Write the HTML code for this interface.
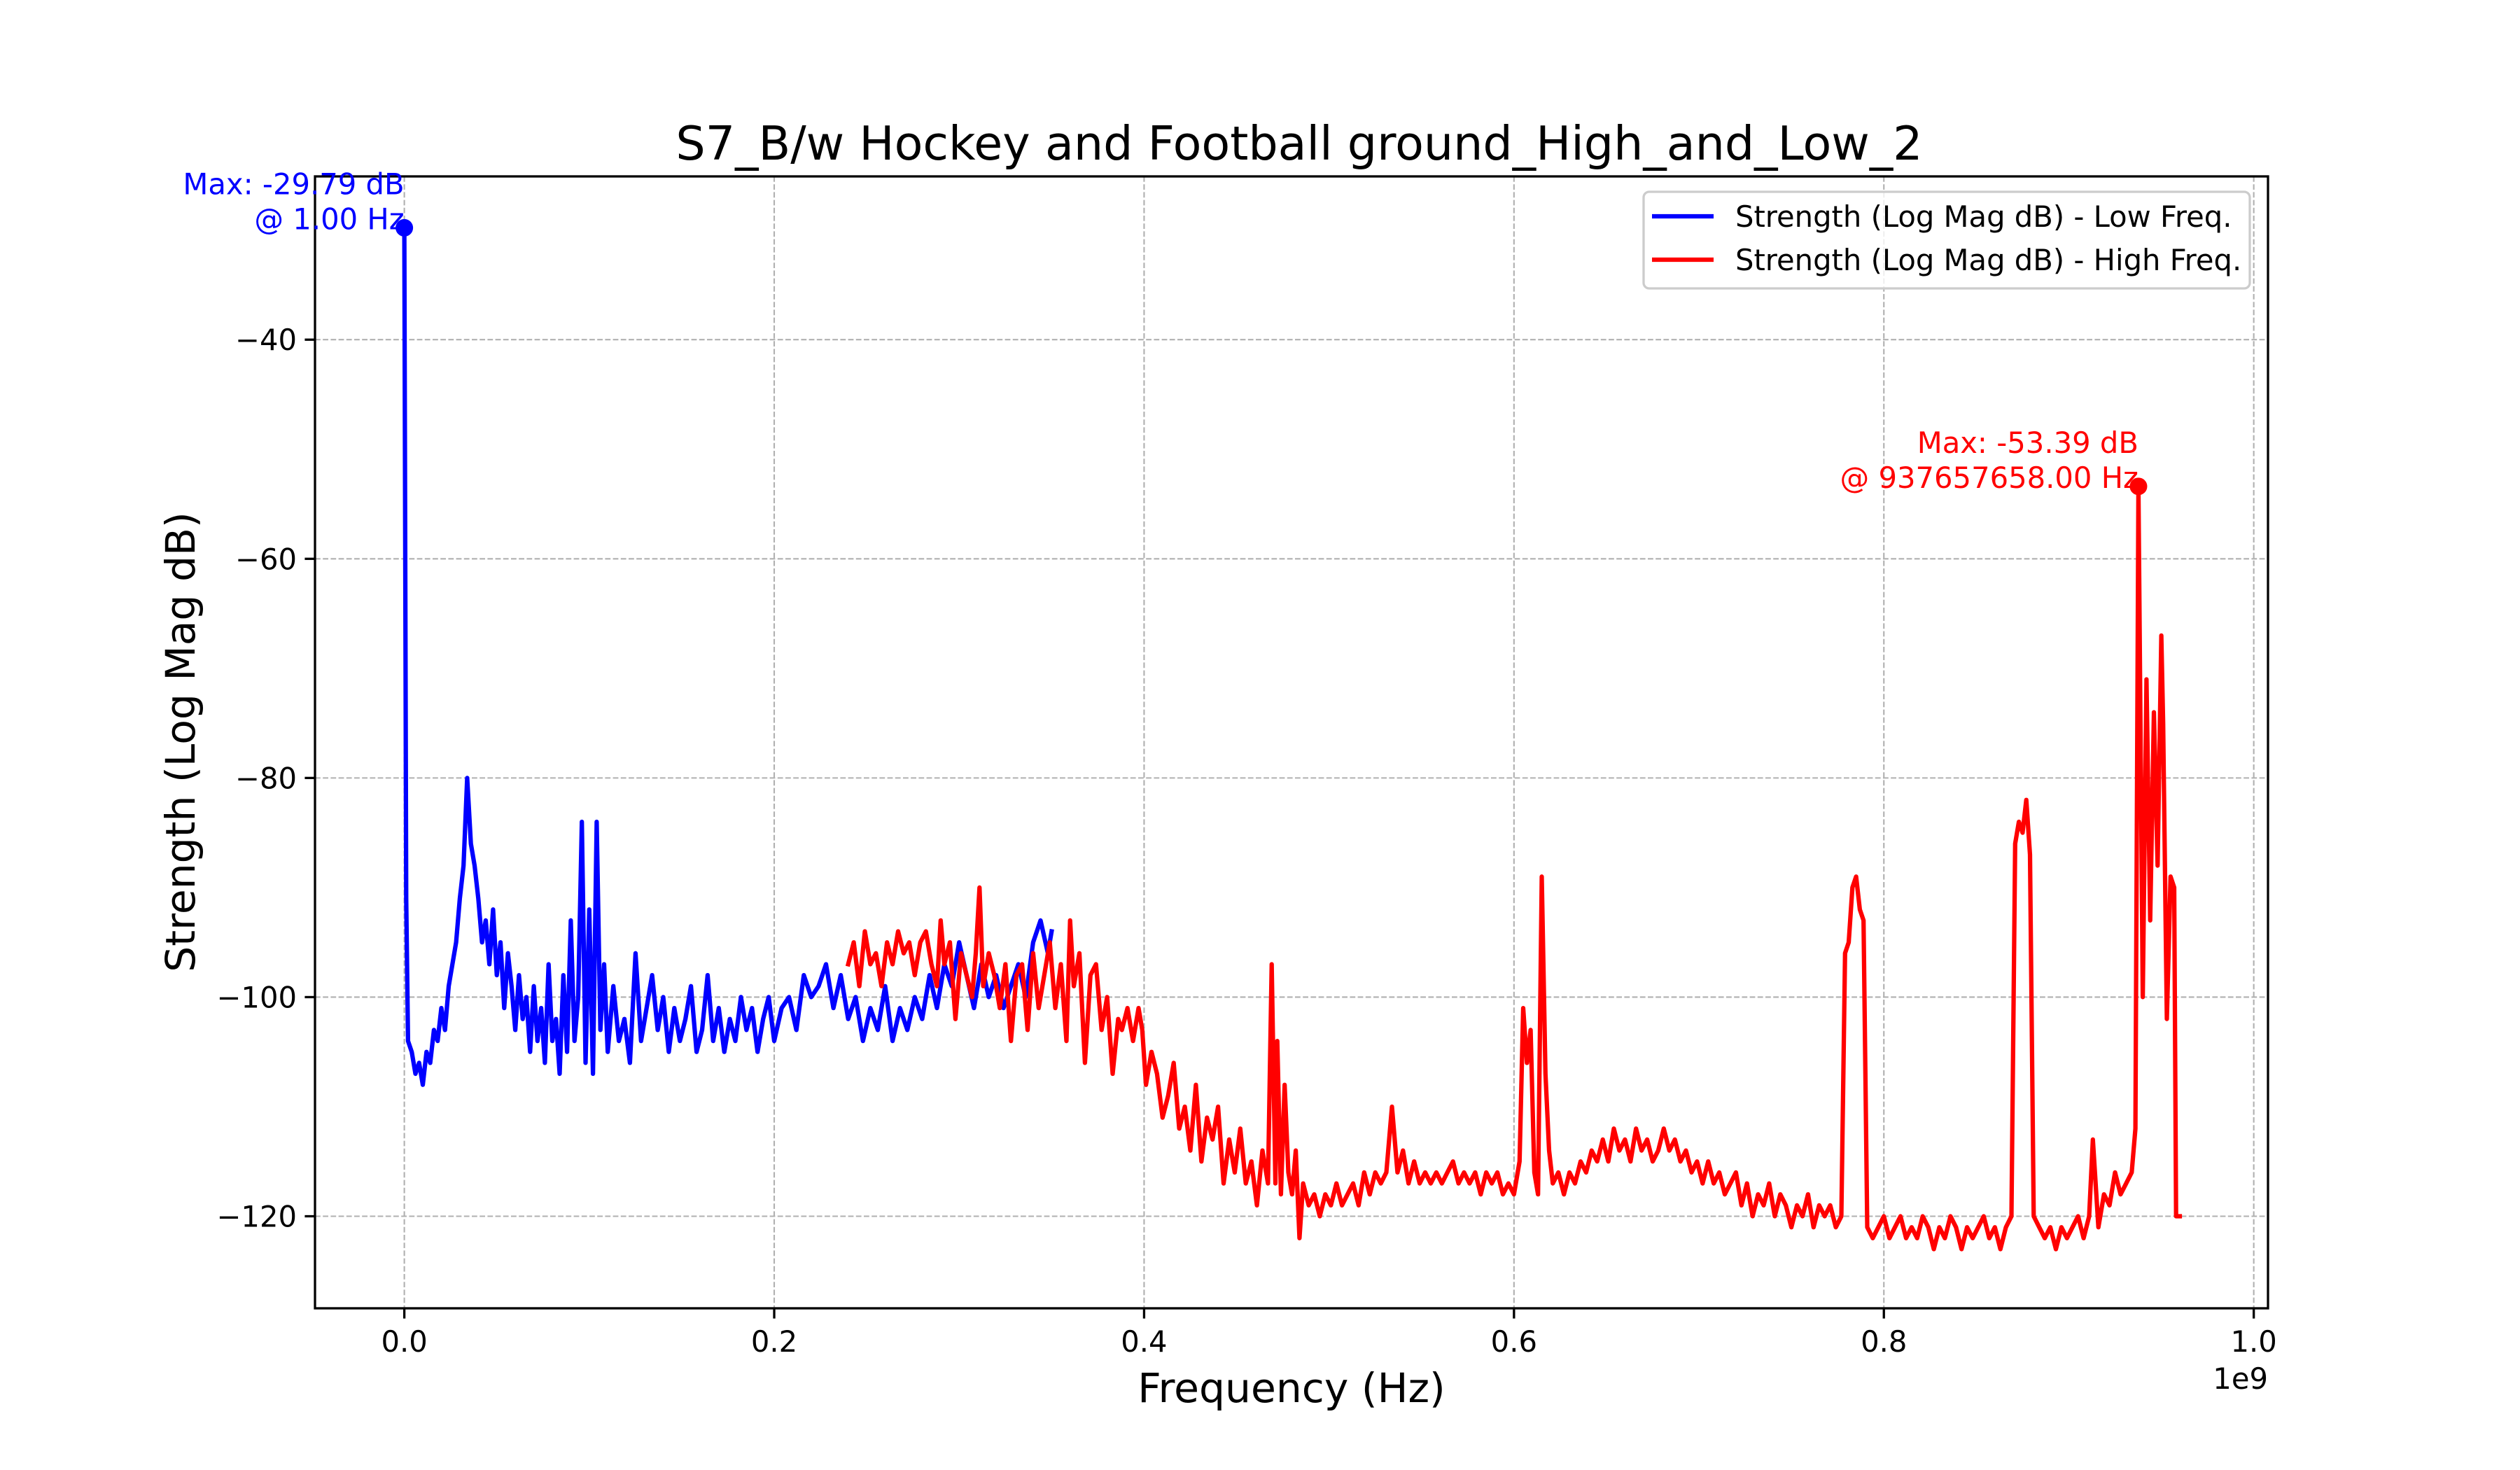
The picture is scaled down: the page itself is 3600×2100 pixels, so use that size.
<!DOCTYPE html>
<html><head><meta charset="utf-8"><style>
html,body{margin:0;padding:0;background:#fff;}
svg{display:block;font-family:"DejaVu Sans","Liberation Sans",sans-serif;}
</style></head><body>
<svg id="chart" width="3600" height="2100" viewBox="0 0 3600 2100" xmlns="http://www.w3.org/2000/svg">
<rect width="3600" height="2100" fill="#fff"/>
<g id="grid"></g>
<g id="series"></g>
<rect x="450" y="252" width="2790" height="1617" fill="none" stroke="#000" stroke-width="3.3"/>
<g id="ticks"></g>
<text x="1856" y="228" font-size="66.7" text-anchor="middle">S7_B/w Hockey and Football ground_High_and_Low_2</text>
<text x="1845" y="2003" font-size="58.3" text-anchor="middle">Frequency (Hz)</text>
<text x="0" y="0" font-size="58.3" text-anchor="middle" transform="translate(278,1060) rotate(-90)">Strength (Log Mag dB)</text>
<text x="3240" y="1984" font-size="41.7" text-anchor="end">1e9</text>
<g id="annots"></g>
<g>
<rect x="2348" y="274" width="866" height="138" rx="8" fill="#fff" fill-opacity="0.8" stroke="#ccc" stroke-width="3.3"/>
<line x1="2360" y1="309" x2="2448" y2="309" stroke="#0000ff" stroke-width="6.25"/>
<text x="2479" y="324" font-size="41.7">Strength (Log Mag dB) - Low Freq.</text>
<line x1="2360" y1="371" x2="2448" y2="371" stroke="#ff0000" stroke-width="6.25"/>
<text x="2479" y="386" font-size="41.7">Strength (Log Mag dB) - High Freq.</text>
</g>
</svg>
<script>
const blueFreqMHz=[0,1,2,4,6,8,10,12,14,16,18,20,22,24,26,28,30,32,34,36,38,40,42,44,46,48,50,52,54,56,58,60,62,64,66,68,70,72,74,76,78,80,82,84,86,88,90,92,94,96,98,100,102,104,106,108,110,113,116,119,122,125,128,131,134,137,140,143,146,149,152,155,158,161,164,167,170,173,176,179,182,185,188,191,194,197,200,204,208,212,216,220,224,228,232,236,240,244,248,252,256,260,264,268,272,276,280,284,288,292,296,300,304,308,312,316,320,324,328,332,336,340,344,348,350];
const blueDb=[-29.79,-91,-104,-105,-107,-106,-108,-105,-106,-103,-104,-101,-103,-99,-97,-95,-91,-88,-80,-86,-88,-91,-95,-93,-97,-92,-98,-95,-101,-96,-99,-103,-98,-102,-100,-105,-99,-104,-101,-106,-97,-104,-102,-107,-98,-105,-93,-104,-100,-84,-106,-92,-107,-84,-103,-97,-105,-99,-104,-102,-106,-96,-104,-101,-98,-103,-100,-105,-101,-104,-102,-99,-105,-103,-98,-104,-101,-105,-102,-104,-100,-103,-101,-105,-102,-100,-104,-101,-100,-103,-98,-100,-99,-97,-101,-98,-102,-100,-104,-101,-103,-99,-104,-101,-103,-100,-102,-98,-101,-97,-99,-95,-98,-101,-97,-100,-98,-101,-99,-97,-100,-95,-93,-96,-94];
const redFreqMHz=[240,243,246,249,252,255,258,261,264,267,270,273,276,279,282,285,288,290,292,295,298,301,304,307,309,311,313,316,319,322,325,328,331,334,337,340,343,346,349,352,355,358,360,362,365,368,371,374,377,380,383,386,388,391,394,397,399,401,404,407,410,413,416,419,422,425,428,431,434,437,440,443,446,449,452,455,458,461,464,467,469,471,472,474,476,478,480,482,484,486,489,492,495,498,501,504,507,510,513,516,519,522,525,528,531,534,537,540,543,546,549,552,555,558,561,564,567,570,573,576,579,582,585,588,591,594,597,600,603,605,607,609,611,613,615,617,619,621,624,627,630,633,636,639,642,645,648,651,654,657,660,663,666,669,672,675,678,681,684,687,690,693,696,699,702,705,708,711,714,717,720,723,726,729,732,735,738,741,744,747,750,753,756,759,762,765,768,771,774,777,779,781,783,785,787,789,791,794,797,800,803,806,809,812,815,818,821,824,827,830,833,836,839,842,845,848,851,854,857,860,863,866,869,871,873,875,877,879,881,884,887,890,893,896,899,902,905,908,911,913,916,919,922,925,928,931,934,936,937.657658,940,942,944,946,948,950,951,953,955,957,958,960];
const redDb=[-97,-95,-99,-94,-97,-96,-99,-95,-97,-94,-96,-95,-98,-95,-94,-97,-99,-93,-97,-95,-102,-96,-98,-100,-96,-90,-99,-96,-98,-101,-97,-104,-98,-97,-103,-96,-101,-98,-95,-101,-97,-104,-93,-99,-96,-106,-98,-97,-103,-100,-107,-102,-103,-101,-104,-101,-103,-108,-105,-107,-111,-109,-106,-112,-110,-114,-108,-115,-111,-113,-110,-117,-113,-116,-112,-117,-115,-119,-114,-117,-97,-117,-104,-118,-108,-116,-118,-114,-122,-117,-119,-118,-120,-118,-119,-117,-119,-118,-117,-119,-116,-118,-116,-117,-116,-110,-116,-114,-117,-115,-117,-116,-117,-116,-117,-116,-115,-117,-116,-117,-116,-118,-116,-117,-116,-118,-117,-118,-115,-101,-106,-103,-116,-118,-89,-107,-114,-117,-116,-118,-116,-117,-115,-116,-114,-115,-113,-115,-112,-114,-113,-115,-112,-114,-113,-115,-114,-112,-114,-113,-115,-114,-116,-115,-117,-115,-117,-116,-118,-117,-116,-119,-117,-120,-118,-119,-117,-120,-118,-119,-121,-119,-120,-118,-121,-119,-120,-119,-121,-120,-96,-95,-90,-89,-92,-93,-121,-122,-121,-120,-122,-121,-120,-122,-121,-122,-120,-121,-123,-121,-122,-120,-121,-123,-121,-122,-121,-120,-122,-121,-123,-121,-120,-86,-84,-85,-82,-87,-120,-121,-122,-121,-123,-121,-122,-121,-120,-122,-120,-113,-121,-118,-119,-116,-118,-117,-116,-112,-53.39,-100,-71,-93,-74,-88,-67,-75,-102,-89,-90,-120,-120];
const xTicks=[0,0.2,0.4,0.6,0.8,1.0];
const xTickLabels=["0.0","0.2","0.4","0.6","0.8","1.0"];
const yTicks=[-40,-60,-80,-100,-120];
const yTickLabels=["\u221240","\u221260","\u221280","\u2212100","\u2212120"];

const NS="http://www.w3.org/2000/svg";
const L=450,R=3240,T=252,B=1869;
const X0=-0.0483,X1=1.0077,Y0=-128.4,Y1=-25.1;
function sx(g){return L+(g-X0)/(X1-X0)*(R-L);}
function sy(v){return B-(v-Y0)/(Y1-Y0)*(B-T);}
function mk(tag,attrs,parent){const e=document.createElementNS(NS,tag);for(const k in attrs)e.setAttribute(k,attrs[k]);parent.appendChild(e);return e;}
const grid=document.getElementById('grid'),ticks=document.getElementById('ticks'),series=document.getElementById('series'),ann=document.getElementById('annots');
xTicks.forEach((t,i)=>{
  const x=sx(t);
  const gl=mk('line',{x1:x,y1:T,x2:x,y2:B,stroke:'#b0b0b0','stroke-width':2.1,'stroke-dasharray':'7.8,3.4'},grid);
  
  
  const tk=mk('line',{x1:x,y1:B,x2:x,y2:B+14.6,stroke:'#000','stroke-width':3.3},ticks);
  
  
  const tx=mk('text',{x:x,y:B+62,'font-size':41.7,'text-anchor':'middle'},ticks);
  tx.textContent=xTickLabels[i];
  
  
});
yTicks.forEach((t,i)=>{
  const y=sy(t);
  const gl=mk('line',{x1:L,y1:y,x2:R,y2:y,stroke:'#b0b0b0','stroke-width':2.1,'stroke-dasharray':'7.8,3.4'},grid);
  
  
  const tk=mk('line',{x1:L-14.6,y1:y,x2:L,y2:y,stroke:'#000','stroke-width':3.3},ticks);
  
  
  const tx=mk('text',{x:L-26,y:y+15,'font-size':41.7,'text-anchor':'end'},ticks);
  tx.textContent=yTickLabels[i];
  
  
});
function path(fr,db,color,name){
  let d='';fr.forEach((f,i)=>{d+=(i?'L':'M')+sx(f/1000).toFixed(1)+','+sy(db[i]).toFixed(1);});
  const p=mk('path',{d:d,fill:'none',stroke:color,'stroke-width':6.25,'stroke-linejoin':'round','stroke-linecap':'square'},series);
  
  
}
path(blueFreqMHz,blueDb,'#0000ff','low-freq-line');
path(redFreqMHz,redDb,'#ff0000','high-freq-line');
function maxMark(fr,db,color,name,l1,l2){
  let mi=0;db.forEach((v,i)=>{if(v>db[mi])mi=i;});
  const x=sx(fr[mi]/1000),y=sy(db[mi]);
  const c=mk('circle',{cx:x,cy:y,r:12.5,fill:color},ann);
  
  
  const t1=mk('text',{x:x,y:y-48,'font-size':41.7,'text-anchor':'end',fill:color},ann);
  t1.textContent=l1;
  
  
  const t2=mk('text',{x:x,y:y+2,'font-size':41.7,'text-anchor':'end',fill:color},ann);
  t2.textContent=l2;
  
  
}
maxMark(blueFreqMHz,blueDb,'#0000ff','low-max','Max: -29.79 dB','@ 1.00 Hz');
maxMark(redFreqMHz,redDb,'#ff0000','high-max','Max: -53.39 dB','@ 937657658.00 Hz');
</script>
</body></html>
